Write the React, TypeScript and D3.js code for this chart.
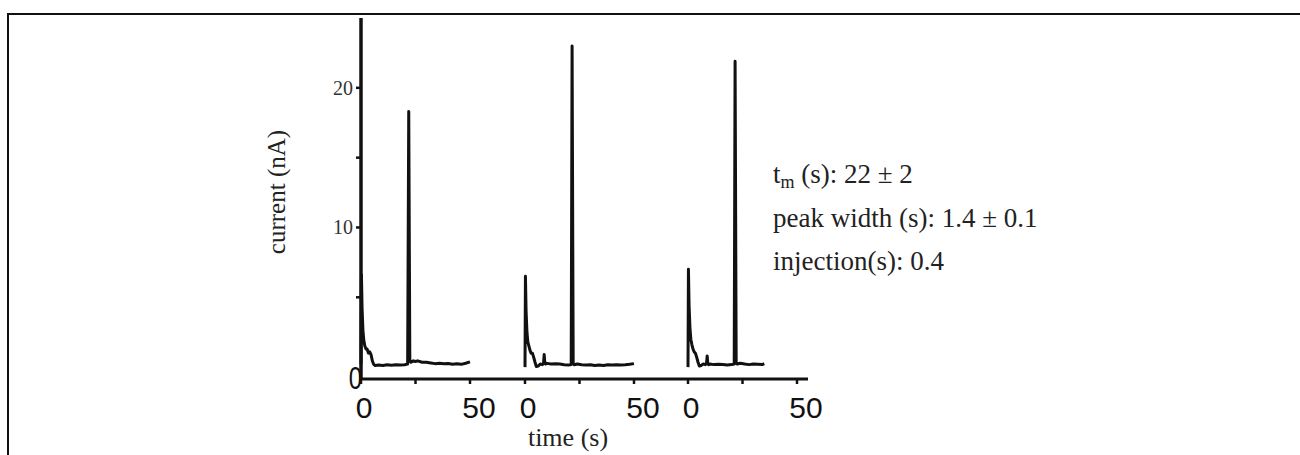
import React from "react";
import * as d3 from "d3";

// ---- data (time in s, current in nA) ----
const run1T = [0, 0.2, 0.5, 0.9, 1.3, 1.8, 2.3, 2.8, 3.4, 4.0, 4.6, 5.2, 5.8, 6.5, 8, 10, 12, 14, 16, 18, 20, 21.4, 21.9, 22.4, 22.9, 24, 25, 26, 28, 30, 32, 34, 36, 38, 40, 42, 44, 46, 48, 50];
const run1I = [0.2, 6.6, 4.2, 2.6, 1.9, 1.5, 1.3, 1.3, 1.0, 1.1, 0.9, 0.45, 0.2, 0.12, 0.15, 0.12, 0.17, 0.14, 0.17, 0.15, 0.17, 0.22, 18.3, 0.45, 0.35, 0.45, 0.4, 0.45, 0.35, 0.35, 0.3, 0.25, 0.28, 0.24, 0.26, 0.2, 0.24, 0.2, 0.28, 0.38];

const run2T = [0, 0.2, 0.5, 0.9, 1.3, 1.8, 2.3, 2.8, 3.4, 4.0, 4.6, 5.2, 6, 7, 8, 8.5, 8.8, 9.1, 9.5, 10, 12, 14, 16, 18, 20, 21.2, 21.6, 22.1, 22.6, 24, 26, 28, 30, 32, 34, 36, 38, 40, 42, 44, 46, 48, 50];
const run2I = [0.0, 6.5, 4.0, 2.5, 1.8, 1.5, 1.2, 1.0, 1.0, 0.7, 0.35, 0.05, 0.08, 0.22, 0.18, 0.28, 0.9, 0.28, 0.22, 0.27, 0.22, 0.25, 0.22, 0.17, 0.15, 0.18, 23.0, 0.22, 0.17, 0.22, 0.17, 0.15, 0.17, 0.12, 0.15, 0.12, 0.17, 0.15, 0.17, 0.15, 0.17, 0.2, 0.25];

const run3T = [0, 0.2, 0.5, 0.9, 1.3, 1.8, 2.3, 2.8, 3.4, 4.0, 4.6, 5.2, 6, 7, 8, 8.5, 8.8, 9.1, 9.5, 10, 12, 14, 16, 18, 20, 21.2, 21.6, 22.1, 22.6, 24, 26, 28, 30, 32, 34, 35];
const run3I = [0.0, 7.0, 4.4, 2.8, 2.0, 1.6, 1.3, 1.1, 1.0, 0.7, 0.35, 0.08, 0.12, 0.22, 0.18, 0.28, 0.8, 0.22, 0.18, 0.22, 0.18, 0.2, 0.18, 0.15, 0.18, 0.22, 21.9, 0.28, 0.22, 0.28, 0.22, 0.18, 0.22, 0.2, 0.18, 0.25];

const runsT = [run1T, run2T, run3T];
const runsI = [run1I, run2I, run3I];

const xTicks = [0, 25, 50];
const xTickLabels = ["0", "50"];
const yTicks = [5, 10, 15, 20];
const yTickLabels = [10, 20];

const infoLines = ["peak width (s): 1.4 \u00b1 0.1", "injection(s): 0.4"];

// ---- layout ----
const W = 1300;
const H = 455;
const panelStarts = [361, 525, 688];
const panelWidth = 109;
const axisY = 379;
const axisTop = 18;
const axisRight = 808;

const serif = "'Liberation Serif', 'Times New Roman', serif";
const sans = "'Liberation Sans', Arial, sans-serif";

export default function App() {
  const y = d3.scaleLinear().domain([-0.85, 25]).range([axisY, axisTop]);
  const xs = panelStarts.map((s) => d3.scaleLinear().domain([0, 50]).range([s, s + panelWidth]));

  const lines = runsT.map((ts, k) => {
    const pts: [number, number][] = ts.map((t, i) => [t, runsI[k][i]]);
    return d3
      .line<[number, number]>()
      .x((d) => xs[k](d[0]))
      .y((d) => y(d[1]))(pts);
  });

  const x0 = panelStarts[0];

  return (
    <svg width={W} height={H} style={{ position: "absolute", left: 0, top: 0, background: "#fff" }}>
      <rect x={8} y={14} width={1400} height={600} fill="none" stroke="#111" strokeWidth={2} />

      {/* traces */}
      {lines.map((d, k) => (
        <path key={k} d={d || ""} fill="none" stroke="#111" strokeWidth={3} strokeLinejoin="round" />
      ))}

      {/* y axis */}
      <line x1={x0} x2={x0} y1={axisTop} y2={axisY + 1} stroke="#111" strokeWidth={3.5} />
      {yTicks.map((v) => (
        <line key={v} x1={x0 - 5} x2={x0} y1={y(v)} y2={y(v)} stroke="#111" strokeWidth={2.5} />
      ))}
      {yTickLabels.map((v) => (
        <text key={v} x={x0 - 8} y={y(v) + 7} textAnchor="end" fontFamily={serif} fontSize={20} fill="#333">
          {v}
        </text>
      ))}
      <text
        x={0}
        y={0}
        transform={`translate(362, 389) scale(0.85, 1.1)`}
        textAnchor="end"
        fontFamily={sans}
        fontSize={28}
        fill="#111"
      >
        0
      </text>

      {/* x axis */}
      <line x1={x0 - 1} x2={axisRight} y1={axisY} y2={axisY} stroke="#111" strokeWidth={3} />
      {xs.map((xsc, k) => (
        <g key={k}>
          {xTicks.map((t) => (
            <line key={t} x1={xsc(t)} x2={xsc(t)} y1={axisY} y2={axisY + 5} stroke="#111" strokeWidth={2.5} />
          ))}
          <text x={xsc(0) + 3} y={418} textAnchor="middle" fontFamily={sans} fontSize={30} fill="#111">
            {xTickLabels[0]}
          </text>
          <text x={xsc(50) + 9} y={418} textAnchor="middle" fontFamily={sans} fontSize={30} fill="#111">
            {xTickLabels[1]}
          </text>
        </g>
      ))}

      {/* axis titles */}
      <text x={568} y={446} textAnchor="middle" fontFamily={serif} fontSize={26} fill="#222">
        time (s)
      </text>
      <text
        transform={`translate(285, 192) rotate(-90)`}
        textAnchor="middle"
        fontFamily={serif}
        fontSize={25}
        fill="#222"
      >
        current (nA)
      </text>

      {/* annotations */}
      <text x={773} y={183} fontFamily={serif} fontSize={27} fill="#222">
        t<tspan fontSize={18} dy={5}>m</tspan>
        <tspan dy={-5}> (s): 22 {"\u00b1"} 2</tspan>
      </text>
      {infoLines.map((s, i) => (
        <text key={i} x={773} y={227 + i * 43} fontFamily={serif} fontSize={27} fill="#222">
          {s}
        </text>
      ))}
    </svg>
  );
}
